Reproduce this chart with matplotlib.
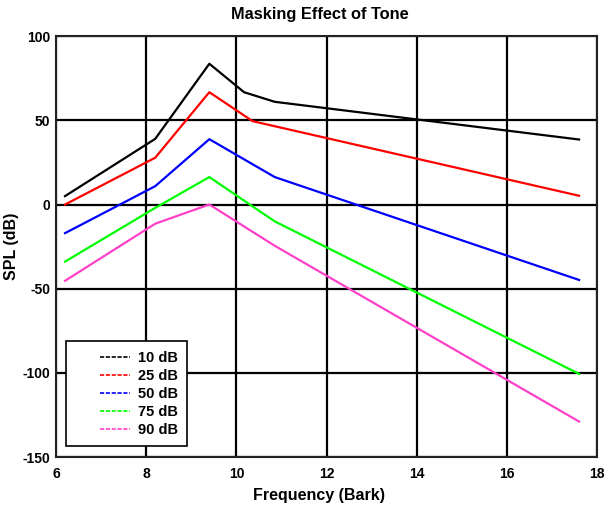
import matplotlib
matplotlib.use('Agg')
import matplotlib.pyplot as plt
from matplotlib.legend_handler import HandlerLine2D

# values
labels = ['10 dB', '25 dB', '50 dB', '75 dB', '90 dB']
colors = ['#000000', '#ff0000', '#0000ff', '#00ff00', '#ff40c8']

x_10 = [6.2, 8.2, 9.4, 10.17, 10.85, 17.6]
y_10 = [5.0, 39.0, 83.6, 66.7, 61.0, 38.6]

x_25 = [6.2, 8.2, 9.4, 10.36, 17.6]
y_25 = [0.0, 27.8, 66.7, 49.5, 5.2]

x_50 = [6.2, 8.2, 9.4, 10.85, 17.6]
y_50 = [-17.0, 10.9, 38.8, 16.3, -44.8]

x_75 = [6.2, 8.2, 9.4, 10.85, 17.6]
y_75 = [-33.9, -2.0, 16.3, -10.0, -100.6]

x_90 = [6.2, 8.2, 9.4, 10.85, 17.6]
y_90 = [-45.3, -11.4, 0.0, -24.5, -128.9]

xs = [x_10, x_25, x_50, x_75, x_90]
ys = [y_10, y_25, y_50, y_75, y_90]


class ShortLine(HandlerLine2D):
    # legend line drawn only on the right part of the handle box
    def create_artists(self, legend, orig_handle, xdescent, ydescent,
                       width, height, fontsize, trans):
        arts = super().create_artists(legend, orig_handle, xdescent, ydescent,
                                      width, height, fontsize, trans)
        yv = arts[0].get_ydata()[0]
        arts[0].set_data([0.45 * width - xdescent, width - xdescent], [yv, yv])
        return arts


plt.rcParams['font.family'] = ['Liberation Sans', 'DejaVu Sans']
plt.rcParams['font.weight'] = 'bold'
plt.rcParams['axes.unicode_minus'] = False

fig = plt.figure(figsize=(6.05, 5.09), dpi=100)
ax = fig.add_axes([0.0926, 0.102, 0.8944, 0.827])

for x, y, c, lab in zip(xs, ys, colors, labels):
    ax.plot(x, y, color=c, lw=1.6, label=lab, zorder=3)

ax.set_xlim(6, 18)
ax.set_ylim(-150, 100)
ax.set_xticks([6, 8, 10, 12, 14, 16, 18])
ax.set_yticks([-150, -100, -50, 0, 50, 100])
ax.grid(True, color='black', lw=1.6, zorder=1)
ax.tick_params(axis='x', length=0, labelsize=10, pad=7)
ax.tick_params(axis='y', length=0, labelsize=10, pad=4)
for lbl in ax.get_xticklabels() + ax.get_yticklabels():
    lbl.set_fontweight('bold')
for s in ax.spines.values():
    s.set_color('#222222')
    s.set_linewidth(1.5)

ax.set_title('Masking Effect of Tone', fontsize=11.8, fontweight='bold', pad=12, x=0.487)
ax.set_xlabel('Frequency (Bark)', fontsize=11.5, fontweight='bold')
ax.xaxis.set_label_coords(0.486, -0.074)
ax.set_ylabel('SPL (dB)', fontsize=11.5, fontweight='bold')
ax.yaxis.set_label_coords(-0.068, 0.5)

handles = [plt.Line2D([], [], color=c, lw=1.2, ls=(0, (2.5, 1))) for c in colors]
leg = ax.legend(handles, labels, loc='lower left', bbox_to_anchor=(0.018, 0.026),
                borderaxespad=0, fancybox=False, framealpha=1, edgecolor='black',
                prop={'weight': 'bold', 'size': 10.5}, handlelength=3.75,
                labelspacing=0.27, borderpad=0.65, handletextpad=0.55,
                handler_map={plt.Line2D: ShortLine()})
leg.get_frame().set_linewidth(1.2)
leg.set_zorder(5)

fig.savefig('out.png', dpi=100)
